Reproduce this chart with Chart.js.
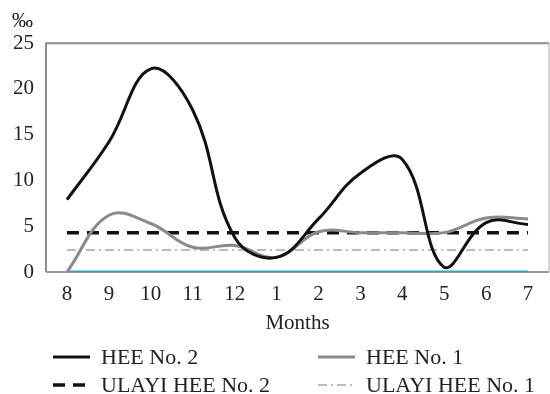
<!DOCTYPE html>
<html>
<head>
<meta charset="utf-8">
<script src="https://cdn.jsdelivr.net/npm/chart.js@4"></script>
<style>
  body { margin: 0; background: #fff; }
  #wrap { position: relative; width: 550px; height: 394px; }
  #legend { position: absolute; left: 0; top: 340px; width: 550px; font-family: "Liberation Serif", serif; font-size: 22px; color: #222; }
  .item { position: absolute; height: 26px; line-height: 26px; white-space: nowrap; }
  .item svg { position: absolute; left: 0; top: 7px; }
  .item span { position: absolute; top: 0; }
</style>
</head>
<body>
<div id="wrap">
  <canvas id="chart" width="550" height="394"></canvas>
  <div id="legend"></div>
</div>
<script>
// months along the x axis (Aug -> Jul)
const months = ["8", "9", "10", "11", "12", "1", "2", "3", "4", "5", "6", "7"];

// values, in per mille
const hee2 = [7.9, 14.2, 22.2, 17.7, 3.8, 1.6, 5.8, 10.8, 12.3, 0.5, 5.4, 5.2];
const hee1 = [0, 6.2, 5.3, 2.7, 2.9, 1.6, 4.4, 4.3, 4.3, 4.3, 5.9, 5.8];
const ulayi2 = [4.3, 4.3, 4.3, 4.3, 4.3, 4.3, 4.3, 4.3, 4.3, 4.3, 4.3, 4.3];
const ulayi1 = [2.4, 2.4, 2.4, 2.4, 2.4, 2.4, 2.4, 2.4, 2.4, 2.4, 2.4, 2.4];
const baseLine = [0, 0, 0, 0, 0, 0, 0, 0, 0, 0, 0, 0];

const yTicks = [0, 5, 10, 15, 20, 25];

const serif = "'Liberation Serif', 'Times New Roman', serif";

// box around the plot area
const frame = {
    id: "frame",
    beforeDatasetsDraw(chart) {
        const a = chart.chartArea;
        const ctx = chart.ctx;
        ctx.save();
        ctx.lineWidth = 2;
        ctx.strokeStyle = "#8c8c8c";
        ctx.beginPath();
        ctx.moveTo(a.left, a.bottom);
        ctx.lineTo(a.left, a.top);
        ctx.lineTo(a.right, a.top);
        ctx.stroke();
        ctx.lineWidth = 1.5;
        ctx.strokeStyle = "#c8c8c8";
        ctx.beginPath();
        ctx.moveTo(a.right, a.top);
        ctx.lineTo(a.right, a.bottom);
        ctx.stroke();
        ctx.strokeStyle = "#9a9a9a";
        ctx.lineWidth = 2;
        ctx.beginPath();
        ctx.moveTo(a.left, a.bottom);
        ctx.lineTo(a.right, a.bottom);
        ctx.stroke();
        ctx.restore();
    }
};

const datasets = [
    { label: "HEE No. 2", data: hee2, borderColor: "#111", borderWidth: 3, borderDash: [], tension: 0.4 },
    { label: "HEE No. 1", data: hee1, borderColor: "#8a8a8a", borderWidth: 3, borderDash: [], tension: 0.4 },
    { label: "ULAYI HEE No. 2", data: ulayi2, borderColor: "#111", borderWidth: 3.5, borderDash: [12, 8], tension: 0 },
    { label: "ULAYI HEE No. 1", data: ulayi1, borderColor: "#8fa8c4", borderWidth: 1.5, borderDash: [9, 4, 2, 4], tension: 0 },
    { label: "", data: baseLine, borderColor: "#3f9fb6", borderWidth: 3, borderDash: [], tension: 0 }
];

new Chart(document.getElementById("chart"), {
    type: "line",
    data: {
        labels: months,
        datasets: datasets.map(d => Object.assign({ pointRadius: 0, fill: false }, d))
    },
    options: {
        responsive: false,
        animation: false,
        layout: { padding: { left: 12, right: 1, top: 0, bottom: 54 } },
        plugins: {
            legend: { display: false },
            tooltip: { enabled: false },
            title: {
                display: true,
                text: "‰",
                align: "start",
                color: "#222",
                font: { family: serif, size: 21, weight: "normal" },
                padding: { top: 9, bottom: 9 }
            }
        },
        scales: {
            x: {
                offset: true,
                afterFit(scale) { scale.height = 68; },
                grid: { display: false, drawTicks: false },
                border: { display: false },
                ticks: { color: "#222", padding: 10, maxRotation: 0, font: { family: serif, size: 21 } },
                title: {
                    display: true,
                    text: "Months",
                    color: "#222",
                    font: { family: serif, size: 21 },
                    padding: { top: 0, bottom: 4 }
                }
            },
            y: {
                min: 0,
                max: 25,
                afterFit(scale) { scale.width = 34; },
                afterBuildTicks(scale) { scale.ticks = yTicks.map(v => ({ value: v })); },
                grid: { display: false, drawTicks: false },
                border: { display: false },
                ticks: { color: "#222", padding: 12, font: { family: serif, size: 21 } }
            }
        }
    },
    plugins: [frame]
});

// two-column legend under the chart
const legendPos = [
    { x: 53, y: 4 }, { x: 318, y: 4 },
    { x: 53, y: 32 }, { x: 318, y: 32 }
];
const legend = document.getElementById("legend");
datasets.slice(0, 4).forEach((d, i) => {
    const item = document.createElement("div");
    item.className = "item";
    item.style.left = legendPos[i].x + "px";
    item.style.top = legendPos[i].y + "px";
    const dash = d.borderDash.length ? ' stroke-dasharray="' + d.borderDash.join(" ") + '"' : "";
    item.innerHTML = '<svg width="38" height="12"><line x1="0" y1="6" x2="37" y2="6" stroke="' + d.borderColor +
        '" stroke-width="' + d.borderWidth + '"' + dash + '/></svg><span style="left:48px">' + d.label + '</span>';
    legend.appendChild(item);
});
</script>
</body>
</html>
